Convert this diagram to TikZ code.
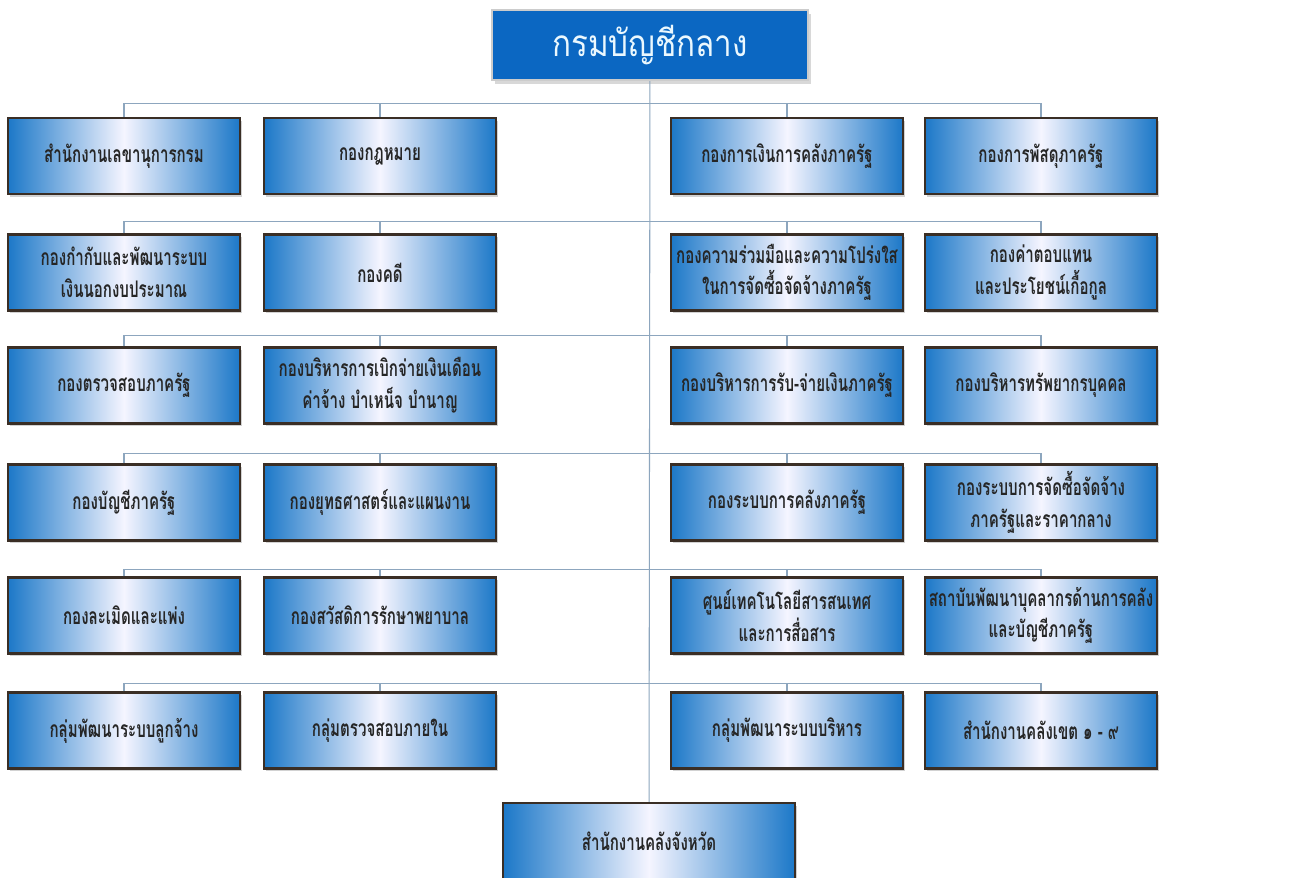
\documentclass[tikz,border=0pt]{standalone}
\usepackage{fontspec}
\newfontfamily\thaifont[Script=Thai,FakeStretch=0.66]{Loma}
\newfontfamily\thaititle[Script=Thai,FakeStretch=0.85]{Loma}
\usepackage{tikz}
\usetikzlibrary{shadows, positioning}
\definecolor{boxblue}{HTML}{1C78C8}
\definecolor{topblue}{HTML}{0B67C2}
\definecolor{rim}{HTML}{3A2E25}
\definecolor{wire}{HTML}{8DA6BE}
\tikzset{
	unit/.style={
		rectangle,
		draw=rim,
		line width=1.4pt,
		left color=boxblue,
		right color=boxblue,
		middle color=blue!4!white,
		minimum width=4.64cm,
		minimum height=1.52cm,
		inner sep=1pt,
		align=center,
		font=\thaifont\bfseries\fontsize{13}{18}\selectfont,
		text=black!85,
		drop shadow={shadow xshift=1.2pt, shadow yshift=-1.6pt, opacity=0.35}
	},
	head/.style={
		rectangle,
		draw=black!20,
		line width=1.2pt,
		fill=topblue,
		minimum width=6.32cm,
		minimum height=1.4cm,
		font=\thaititle\fontsize{21}{24}\selectfont,
		text=cyan!8!white,
		drop shadow={shadow xshift=1.5pt, shadow yshift=-2pt, opacity=0.3}
	},
	wireline/.style={
		draw=wire,
		line width=0.6pt
	}
}

\begin{document}
\begin{tikzpicture}
		\useasboundingbox (0,0) rectangle (25.78,-17.54);
		\fill[white] (0,0) rectangle (25.78,-17.54);
		
		\node[head] (top) at (13,-0.9) {กรมบัญชีกลาง};
		\node[unit, minimum width=5.84cm] (prov) at (12.98,-16.82) {สำนักงานคลังจังหวัด};
		\draw[wireline] (top) -- (prov);
		
		\node[unit] (r1c1) at (2.48,-3.12) {สำนักงานเลขานุการกรม};
		\node[unit] (r1c2) at (7.6,-3.12) {กองกฎหมาย};
		\node[unit] (r1c3) at (15.74,-3.12) {กองการเงินการคลังภาครัฐ};
		\node[unit] (r1c4) at (20.82,-3.12) {กองการพัสดุภาครัฐ};
		
		\node[unit] (r2c1) at (2.48,-5.45) {กองกำกับและพัฒนาระบบ\\เงินนอกงบประมาณ};
		\node[unit] (r2c2) at (7.6,-5.45) {กองคดี};
		\node[unit] (r2c3) at (15.74,-5.45) {กองความร่วมมือและความโปร่งใส\\ในการจัดซื้อจัดจ้างภาครัฐ};
		\node[unit] (r2c4) at (20.82,-5.45) {กองค่าตอบแทน\\และประโยชน์เกื้อกูล};
		
		\node[unit] (r3c1) at (2.48,-7.71) {กองตรวจสอบภาครัฐ};
		\node[unit] (r3c2) at (7.6,-7.71) {กองบริหารการเบิกจ่ายเงินเดือน\\ค่าจ้าง บำเหน็จ บำนาญ};
		\node[unit] (r3c3) at (15.74,-7.71) {กองบริหารการรับ-จ่ายเงินภาครัฐ};
		\node[unit] (r3c4) at (20.82,-7.71) {กองบริหารทรัพยากรบุคคล};
		
		\node[unit] (r4c1) at (2.48,-10.05) {กองบัญชีภาครัฐ};
		\node[unit] (r4c2) at (7.6,-10.05) {กองยุทธศาสตร์และแผนงาน};
		\node[unit] (r4c3) at (15.74,-10.05) {กองระบบการคลังภาครัฐ};
		\node[unit] (r4c4) at (20.82,-10.05) {กองระบบการจัดซื้อจัดจ้าง\\ภาครัฐและราคากลาง};
		
		\node[unit] (r5c1) at (2.48,-12.31) {กองละเมิดและแพ่ง};
		\node[unit] (r5c2) at (7.6,-12.31) {กองสวัสดิการรักษาพยาบาล};
		\node[unit] (r5c3) at (15.74,-12.31) {ศูนย์เทคโนโลยีสารสนเทศ\\และการสื่อสาร};
		\node[unit] (r5c4) at (20.82,-12.31) {สถาบันพัฒนาบุคลากรด้านการคลัง\\และบัญชีภาครัฐ};
		
		\node[unit] (r6c1) at (2.48,-14.61) {กลุ่มพัฒนาระบบลูกจ้าง};
		\node[unit] (r6c2) at (7.6,-14.61) {กลุ่มตรวจสอบภายใน};
		\node[unit] (r6c3) at (15.74,-14.61) {กลุ่มพัฒนาระบบบริหาร};
		\node[unit] (r6c4) at (20.82,-14.61) {สำนักงานคลังเขต ๑ - ๙};
		
		% branch bars
		\draw[wireline] (r1c1.north) -- ++(0,0.26) -| (r1c4.north);
		\draw[wireline] (r1c2.north) -- ++(0,0.26);
		\draw[wireline] (r1c3.north) -- ++(0,0.26);
		\draw[wireline] (r2c1.north) -- ++(0,0.24) -| (r2c4.north);
		\draw[wireline] (r2c2.north) -- ++(0,0.24);
		\draw[wireline] (r2c3.north) -- ++(0,0.24);
		\draw[wireline] (r3c1.north) -- ++(0,0.22) -| (r3c4.north);
		\draw[wireline] (r3c2.north) -- ++(0,0.22);
		\draw[wireline] (r3c3.north) -- ++(0,0.22);
		\draw[wireline] (r4c1.north) -- ++(0,0.2) -| (r4c4.north);
		\draw[wireline] (r4c2.north) -- ++(0,0.2);
		\draw[wireline] (r4c3.north) -- ++(0,0.2);
		\draw[wireline] (r5c1.north) -- ++(0,0.14) -| (r5c4.north);
		\draw[wireline] (r5c2.north) -- ++(0,0.14);
		\draw[wireline] (r5c3.north) -- ++(0,0.14);
		\draw[wireline] (r6c1.north) -- ++(0,0.16) -| (r6c4.north);
		\draw[wireline] (r6c2.north) -- ++(0,0.16);
		\draw[wireline] (r6c3.north) -- ++(0,0.16);
\end{tikzpicture}
\end{document}
